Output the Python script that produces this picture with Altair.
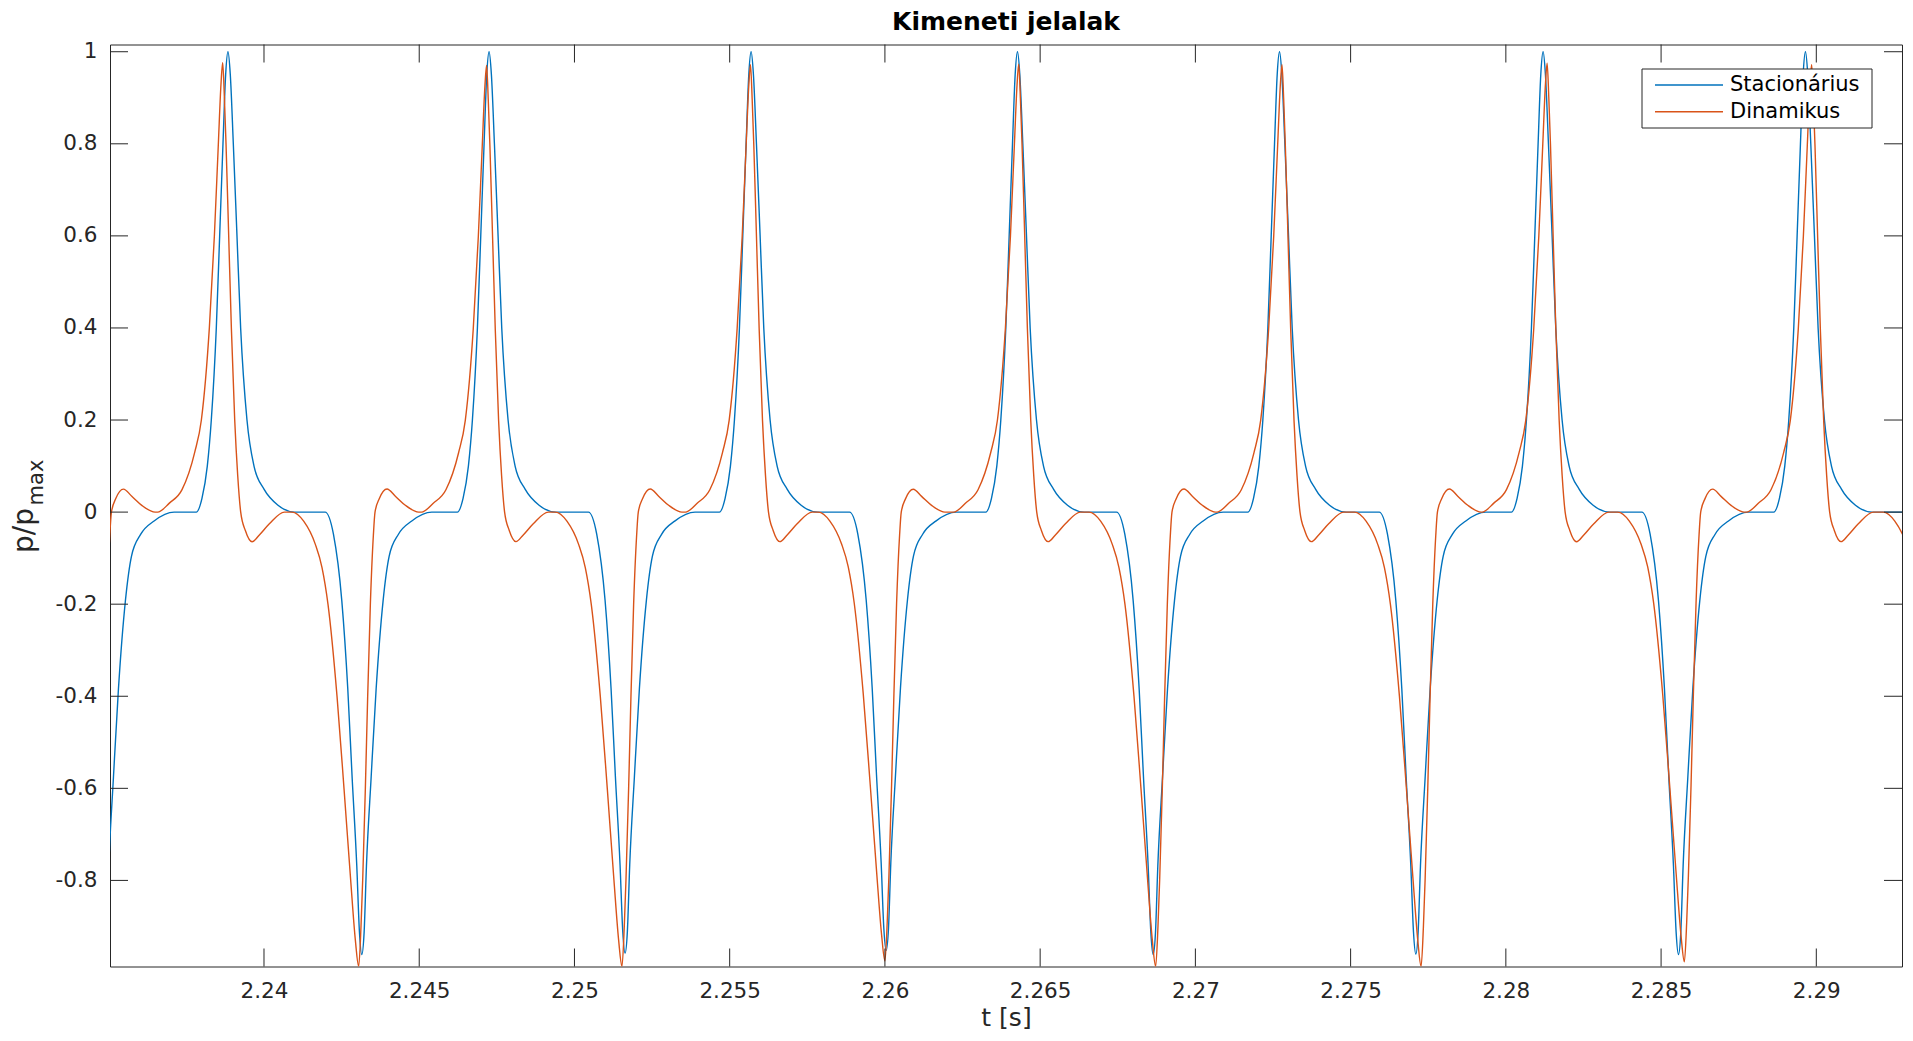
import altair as alt
import pandas as pd

# ---------------- values ----------------
series_names = ["Stacionárius", "Dinamikus"]
series_colors = ["#0072BD", "#D95319"]
chart_title = "Kimeneti jelalak"
x_title = "t [s]"
y_title_main, y_title_sub = "p/p", "max"

x_ticks = [2.24, 2.245, 2.25, 2.255, 2.26, 2.265, 2.27, 2.275, 2.28, 2.285, 2.29]
y_ticks = [-0.8, -0.6, -0.4, -0.2, 0, 0.2, 0.4, 0.6, 0.8, 1]
x_range = [2.23504, 2.29276]
y_range = [-0.987, 1.0157]

# times [s] and heights of every positive peak / negative trough
stac_peak_t = [2.23884, 2.24725, 2.25569, 2.26427, 2.27271, 2.28120, 2.28965]
stac_peak_y = [1.0, 1.0, 1.0, 1.0, 1.0, 1.0, 1.0]
stac_trough_t = [2.23485, 2.24315, 2.25163, 2.26004, 2.26864, 2.27710, 2.28556, 2.29404]
stac_trough_y = [-0.96, -0.961, -0.958, -0.952, -0.961, -0.96, -0.961, -0.96]

din_peak_t = [2.23867, 2.24717, 2.25567, 2.26431, 2.27279, 2.28133, 2.28985]
din_peak_y = [0.976, 0.970, 0.972, 0.973, 0.972, 0.975, 0.972]
din_trough_t = [2.23456, 2.24305, 2.25153, 2.26000, 2.26872, 2.27727, 2.28575, 2.29430]
din_trough_y = [-0.98, -0.987, -0.987, -0.975, -0.987, -0.987, -0.977, -0.98]

stac_peak_dt = [-1.020, -0.838, -0.666, -0.537, -0.376, -0.268, -0.161, -0.075, 0.0,
                0.075, 0.172, 0.290, 0.408, 0.612, 0.838, 1.160, 1.611, 2.148]
stac_peak_fr = [0.0, 0.03, 0.1, 0.2, 0.4, 0.6, 0.8, 0.95, 1.0,
                0.95, 0.8, 0.6, 0.4, 0.2, 0.1, 0.05, 0.015, 0.0]

stac_trough_dt = [-1.181, -0.913, -0.644, -0.451, -0.311, -0.161, -0.075, 0.0,
                  0.075, 0.150, 0.301, 0.462, 0.687, 0.881, 1.181, 1.611, 2.255]
stac_trough_fr = [0.0, 0.05, 0.2, 0.4, 0.6, 0.8, 0.95, 1.0,
                  0.95, 0.8, 0.6, 0.4, 0.2, 0.1, 0.05, 0.02, 0.0]

din_peak_dt = [-2.094, -1.718, -1.310, -0.902, -0.687, -0.430, -0.268, -0.140, -0.054, 0.0,
               0.054, 0.107, 0.193, 0.279, 0.387, 0.483, 0.580, 0.730, 0.945, 1.181, 1.503, 1.987]
din_peak_fr = [0.0, 0.02, 0.05, 0.133, 0.205, 0.41, 0.615, 0.82, 0.954, 1.0,
               0.923, 0.82, 0.615, 0.41, 0.205, 0.082, 0.0, -0.041, -0.066, -0.051, -0.026, 0.0]

din_trough_dt = [-2.148, -1.772, -1.396, -1.181, -0.988, -0.698, -0.473, -0.258, -0.107, 0.0,
                 0.075, 0.129, 0.215, 0.290, 0.376, 0.473, 0.526, 0.666, 0.913, 1.181, 1.503, 1.933]
din_trough_fr = [0.0, 0.02, 0.071, 0.122, 0.203, 0.405, 0.608, 0.81, 0.942, 1.0,
                 0.912, 0.81, 0.608, 0.405, 0.203, 0.051, 0.0, -0.03, -0.051, -0.035, -0.015, 0.0]


def build(name, pk_t, pk_y, tr_t, tr_y, pk_dt, pk_fr, tr_dt, tr_fr):
    rows = []
    for t0, a in zip(pk_t, pk_y):
        for dt, f in zip(pk_dt, pk_fr):
            rows.append((round(t0 + dt / 1000.0, 7), a * f))
    for t0, a in zip(tr_t, tr_y):
        for dt, f in zip(tr_dt, tr_fr):
            rows.append((round(t0 + dt / 1000.0, 7), a * f))
    rows.sort()
    return pd.DataFrame({"t": [r[0] for r in rows], "p": [r[1] for r in rows], "series": name})


df = pd.concat([
    build(series_names[0], stac_peak_t, stac_peak_y, stac_trough_t, stac_trough_y,
          stac_peak_dt, stac_peak_fr, stac_trough_dt, stac_trough_fr),
    build(series_names[1], din_peak_t, din_peak_y, din_trough_t, din_trough_y,
          din_peak_dt, din_peak_fr, din_trough_dt, din_trough_fr),
], ignore_index=True)

# ---------------- layout ----------------
W, H = 1792, 922
AX = "#262626"
TICK = 18
FONT = "DejaVu Sans"

xscale = alt.Scale(domain=x_range, nice=False, zero=False)
yscale = alt.Scale(domain=y_range, nice=False, zero=False)
xaxis = alt.Axis(values=x_ticks, title=x_title, grid=False, domain=False, ticks=False, tickSize=0,
                 labelExpr="toString(datum.value)", labelFontSize=21.5, labelColor=AX,
                 labelPadding=25, labelBaseline="middle", labelFlush=False, labelOverlap=False,
                 titleFontSize=25, titleFontWeight="normal", titleColor=AX, titlePadding=3)
yaxis = alt.Axis(values=y_ticks, title=None, grid=False, domain=False, ticks=False, tickSize=0,
                 labelExpr="toString(datum.value)", labelFontSize=21.5, labelColor=AX,
                 labelPadding=13, labelBaseline="middle", labelFlush=False, labelOverlap=False)

X = alt.X("t:Q", scale=xscale, axis=xaxis)
Y = alt.Y("p:Q", scale=yscale, axis=yaxis)

lines = alt.Chart(df).mark_line(clip=True, strokeWidth=1.4, interpolate="monotone").encode(
    x=X, y=Y,
    color=alt.Color("series:N", scale=alt.Scale(domain=series_names, range=series_colors), legend=None),
    detail="series:N",
)

xt = pd.DataFrame({"t": x_ticks})
yt = pd.DataFrame({"p": y_ticks})
tick_bottom = alt.Chart(xt).mark_rule(color=AX, strokeWidth=1).encode(x=X, y=alt.value(H), y2=alt.value(H - TICK))
tick_top = alt.Chart(xt).mark_rule(color=AX, strokeWidth=1).encode(x=X, y=alt.value(0), y2=alt.value(TICK))
tick_left = alt.Chart(yt).mark_rule(color=AX, strokeWidth=1).encode(y=Y, x=alt.value(0), x2=alt.value(TICK))
tick_right = alt.Chart(yt).mark_rule(color=AX, strokeWidth=1).encode(y=Y, x=alt.value(W - TICK), x2=alt.value(W))

one = pd.DataFrame({"k": [0]})
legend_box = alt.Chart(one).mark_rect(fill="white", stroke=AX, strokeWidth=1).encode(
    x=alt.value(1532), x2=alt.value(1762), y=alt.value(24.5), y2=alt.value(83.5))
legend_layers = [legend_box]
for i, (nm, col) in enumerate(zip(series_names, series_colors)):
    yy = 40.5 + i * 26.7
    legend_layers.append(alt.Chart(one).mark_rule(color=col, strokeWidth=1.4).encode(
        x=alt.value(1545), x2=alt.value(1613), y=alt.value(yy)))
    legend_layers.append(alt.Chart(pd.DataFrame({"name": [nm]})).mark_text(
        align="left", baseline="middle", fontSize=21, font=FONT, color="black").encode(
        x=alt.value(1620), y=alt.value(yy), text="name:N"))

title_mark = alt.Chart(pd.DataFrame({"s": [chart_title]})).mark_text(
    align="center", baseline="alphabetic", fontSize=25, fontWeight="bold", font=FONT, color="black").encode(
    x=alt.value(W / 2), y=alt.value(-14.5), text="s:N")

ytitle_main = alt.Chart(pd.DataFrame({"s": [y_title_main]})).mark_text(
    angle=270, align="center", baseline="middle", fontSize=28, font=FONT, color=AX).encode(
    x=alt.value(-85), y=alt.value(486), text="s:N")
ytitle_sub = alt.Chart(pd.DataFrame({"s": [y_title_sub]})).mark_text(
    angle=270, align="center", baseline="middle", fontSize=21, font=FONT, color=AX).encode(
    x=alt.value(-73), y=alt.value(438), text="s:N")

chart = alt.layer(
    lines, tick_bottom, tick_top, tick_left, tick_right, *legend_layers,
    title_mark, ytitle_main, ytitle_sub
).properties(
    width=W, height=H,
    autosize=alt.AutoSizeParams(type="none"),
    padding={"left": 102, "top": 36.5, "right": 3, "bottom": 66},
).configure(font=FONT).configure_view(stroke=AX, strokeWidth=1)

chart.save("out.html", embed_options={"renderer": "svg", "actions": False})
